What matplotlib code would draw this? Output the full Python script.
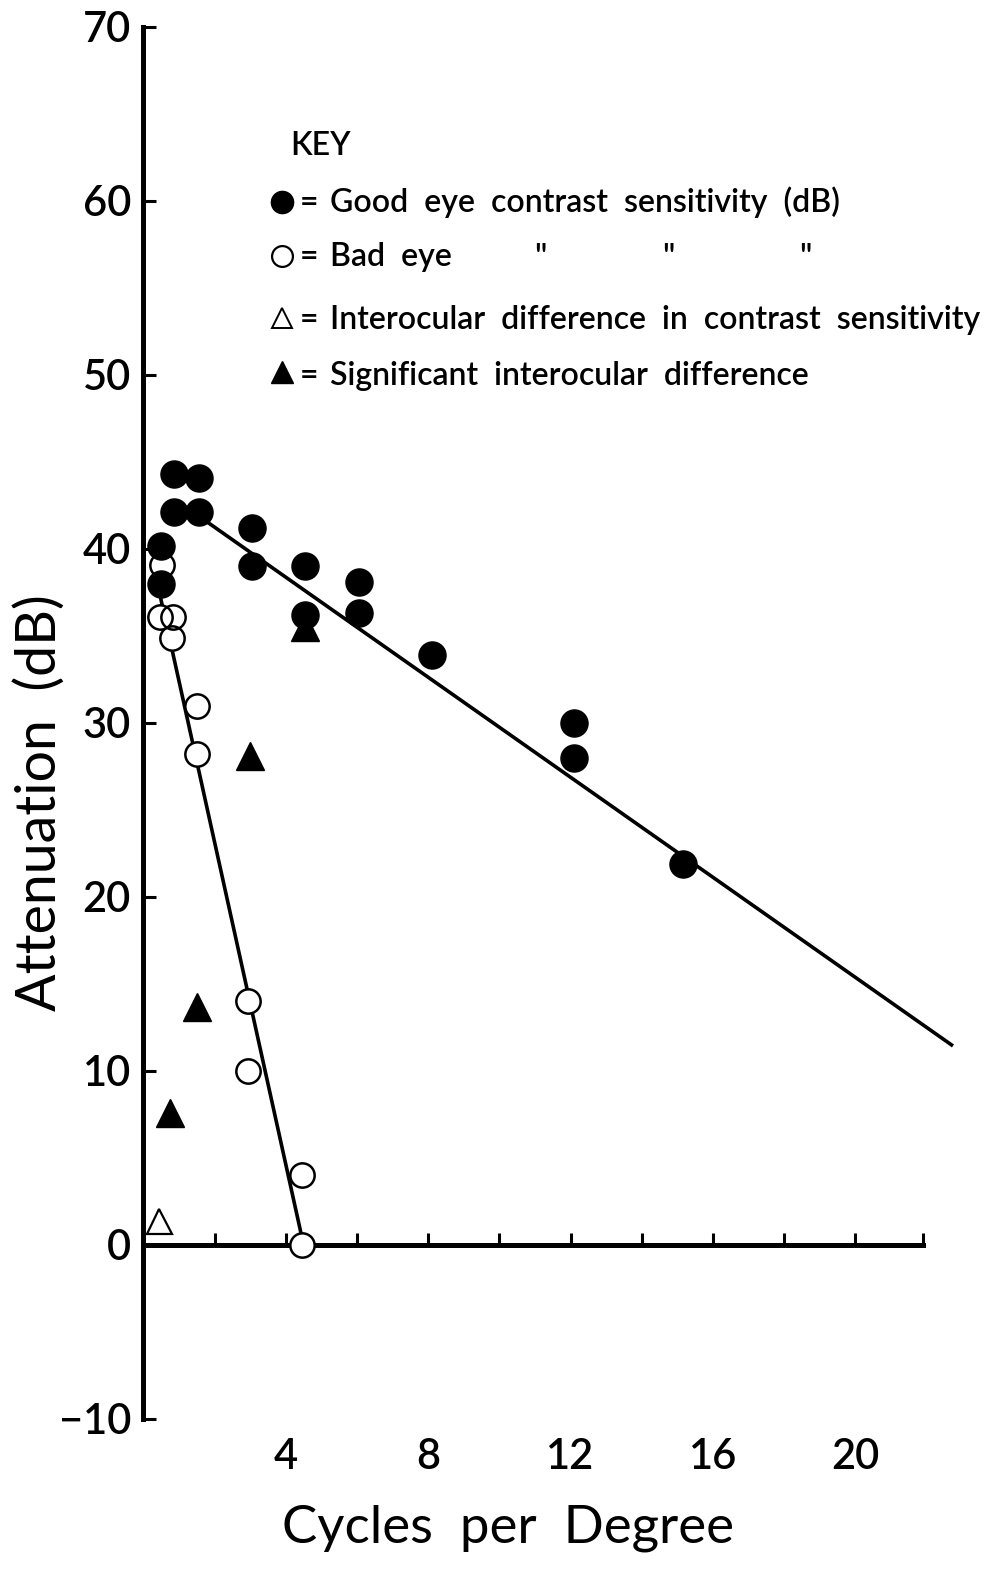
import matplotlib
matplotlib.use("Agg")
import matplotlib.pyplot as plt
from matplotlib.ticker import FixedLocator, NullFormatter

plt.rcParams['font.family'] = ['Lato', 'DejaVu Sans']
plt.rcParams['font.weight'] = 'semibold'

# Good eye contrast sensitivity (dB)
good_x = [0.5, 0.5, 0.85, 0.85, 1.55, 1.55, 3.05, 3.05, 4.55, 4.55, 6.05, 6.05, 8.1, 12.1, 12.1, 15.15]
good_y = [40.2, 38.0, 44.3, 42.1, 44.1, 42.1, 41.2, 39.0, 39.0, 36.2, 38.1, 36.3, 33.9, 30.0, 28.0, 21.9]

# Bad eye contrast sensitivity (dB)
bad_x = [0.52, 0.47, 0.82, 0.8, 1.5, 1.5, 2.95, 2.95, 4.45, 4.45]
bad_y = [39.1, 36.1, 36.1, 34.9, 31.0, 28.2, 14.0, 10.0, 4.0, 0.0]

# Interocular difference (not significant / significant)
diff_x = [0.45]
diff_y = [1.4]
sig_x = [0.75, 1.5, 3.0, 4.55]
sig_y = [7.6, 13.7, 28.1, 35.5]

# Regression lines
good_fit_x = [1.55, 22.7]
good_fit_y = [41.9, 11.5]
bad_fit_x = [0.45, 4.5]
bad_fit_y = [37.5, 0.0]

y_ticks = [-10, 0, 10, 20, 30, 40, 50, 60, 70]
x_ticks = [2, 4, 6, 8, 10, 12, 14, 16, 18, 20]
x_labelled = [4, 8, 12, 16, 20]
x_axis_end = 21.9

W, H = 984, 1574
fig = plt.figure(figsize=(W / 100, H / 100), dpi=100)
ax = fig.add_axes([143.4 / W, 1 - 1419 / H, 818.8 / W, 1392 / H])
ax.set_xlim(0, 23)
ax.set_ylim(-10, 70)

for s in ('top', 'right'):
    ax.spines[s].set_visible(False)
ax.spines['bottom'].set_position(('data', 0))
ax.spines['bottom'].set_bounds(0, x_axis_end)
for s in ('left', 'bottom'):
    ax.spines[s].set_linewidth(3.6)
    ax.spines[s].set_capstyle('projecting')

ax.set_yticks(y_ticks)
ax.tick_params(axis='y', direction='in', length=9, width=2.2, labelsize=30, pad=9)
ax.set_xticks(x_ticks)
ax.xaxis.set_major_formatter(NullFormatter())
ax.xaxis.set_minor_locator(FixedLocator([x_axis_end]))
ax.tick_params(axis='x', which='both', direction='in', length=9, width=2.2)

sec = ax.secondary_xaxis(0)
sec.set_xticks(x_labelled)
sec.spines['bottom'].set_visible(False)
sec.tick_params(length=0, labelsize=30, pad=14)

ax.set_ylabel('Attenuation  (dB)', fontsize=40)
ax.yaxis.set_label_coords(-0.126, 0.4425)
ax.yaxis.label.set_va('center')
ax.set_xlabel('Cycles  per  Degree', fontsize=38)
ax.xaxis.set_label_coords(0.445, -0.0783)
ax.xaxis.label.set_va('center')

# Fitted lines
ax.plot(good_fit_x, good_fit_y, color='black', lw=2.6, zorder=2, clip_on=False)
ax.plot(bad_fit_x, bad_fit_y, color='black', lw=2.6, zorder=2, clip_on=False)

# Data points
ax.plot(sig_x, sig_y, linestyle='none', marker='^', ms=20, color='black', zorder=3)
ax.plot(diff_x, diff_y, linestyle='none', marker='^', ms=18, mfc='white', mec='black', mew=1.6, zorder=3)
ax.plot(bad_x, bad_y, linestyle='none', marker='o', ms=17.5, mfc='white', mec='none', zorder=4, clip_on=False)
ax.plot(bad_x, bad_y, linestyle='none', marker='o', ms=17.5, mfc='none', mec='black', mew=1.8, zorder=5, clip_on=False)
ax.plot(good_x, good_y, linestyle='none', marker='o', ms=19.5, color='black', zorder=6)


def fx(px):
    return px / W


def fy(py):
    return 1 - py / H


# Key
key_size = 23
fig.text(fx(290), fy(155), 'KEY', fontsize=key_size, ha='left', va='baseline')
key_rows = [
    (202, 212, dict(marker='o', ms=16, color='black'), 'Good  eye  contrast  sensitivity  (dB)'),
    (256, 266, dict(marker='o', ms=15, mfc='white', mec='black', mew=1.6), 'Bad  eye'),
    (318, 329, dict(marker='^', ms=15, mfc='white', mec='black', mew=1.4), 'Interocular  difference  in  contrast  sensitivity'),
    (372, 385, dict(marker='^', ms=16, color='black'), 'Significant  interocular  difference'),
]
for my, base, mk, label in key_rows:
    fig.add_artist(plt.Line2D([fx(282)], [fy(my)], linestyle='none', transform=fig.transFigure, **mk))
    fig.text(fx(300), fy(base), '=', fontsize=key_size, ha='left', va='baseline')
    fig.text(fx(330), fy(base), label, fontsize=key_size, ha='left', va='baseline')
for dx in (540, 668, 805):
    fig.text(fx(dx), fy(258), '"', fontsize=key_size, ha='center', va='center')

fig.savefig('out.png', dpi=100)
